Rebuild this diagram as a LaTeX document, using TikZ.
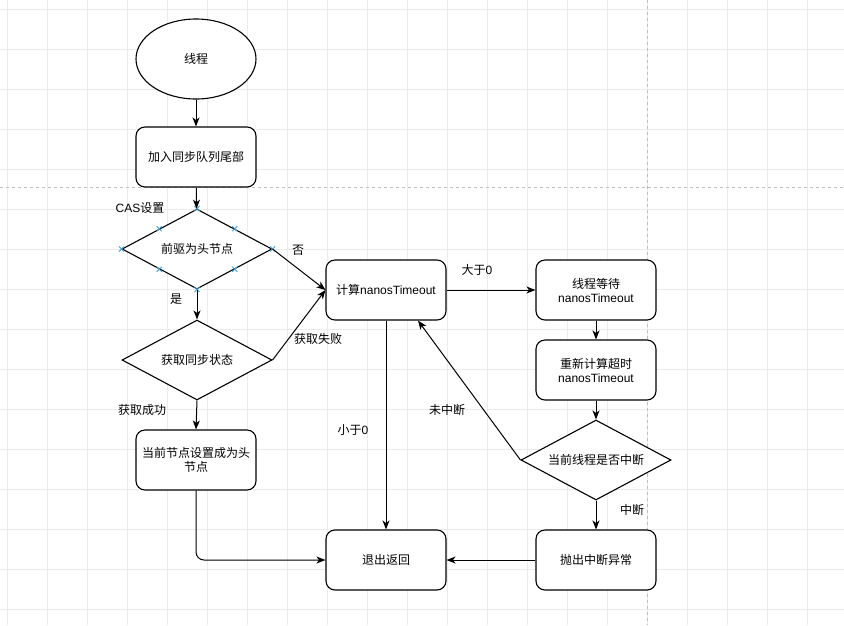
\documentclass[tikz,border=0pt]{standalone}
\usepackage{fontspec}
\setmainfont{Liberation Sans}
\newfontfamily\cjkfont{Noto Sans CJK SC}
\newcommand{\zhtext}[1]{{\cjkfont #1}}
\usetikzlibrary{shapes.geometric,arrows.meta,calc}
\definecolor{gridc}{RGB}{235,235,235}
\definecolor{dashc}{RGB}{190,190,190}
\definecolor{markc}{RGB}{60,160,220}
\tikzset{
  base/.style={draw=black, line width=1.1pt, fill=white, inner sep=0pt, align=center,
    font=\fontsize{12}{14}\selectfont},
  rbox/.style={base, rectangle, rounded corners=9pt, minimum width=120pt, minimum height=60pt},
  ell/.style={base, ellipse, minimum width=120pt, minimum height=80pt},
  dia/.style={base, diamond, aspect=1.875, minimum width=150pt, minimum height=80pt},
  conn/.style={draw=black, line width=1pt, -{Stealth[length=9pt,width=7pt,inset=2.5pt]}},
  lbl/.style={inner sep=0pt, font=\fontsize{12}{14}\selectfont},
  xmark/.style={draw=markc, line width=0.8pt}
}
\begin{document}
\begin{tikzpicture}[x=1pt,y=-1pt]
\useasboundingbox (0,0) rectangle (844,625);
\fill[white] (0,0) rectangle (844,625);
% grid
\foreach \gx in {7,47,...,844} \draw[gridc, line width=0.8pt] (\gx,0) -- (\gx,625);
\foreach \gy in {9,49,...,625} \draw[gridc, line width=0.8pt] (0,\gy) -- (844,\gy);
% dashed page breaks
\draw[dashc, line width=0.8pt, dash pattern=on 3pt off 3pt] (0,187) -- (844,187);
\draw[dashc, line width=0.8pt, dash pattern=on 3pt off 3pt] (647,0) -- (647,625);

% nodes
\node[ell] (thread) at (196,59) {\zhtext{线程}};
\node[rbox] (enq) at (196,157) {\zhtext{加入同步队列尾部}};
\node[dia] (pred) at (197,249) {\zhtext{前驱为头节点}};
\node[dia] (acq) at (197,360) {\zhtext{获取同步状态}};
\node[rbox] (sethead) at (196,460) {\zhtext{当前节点设置成为头}\\\zhtext{节点}};
\node[rbox] (calc) at (386,290) {\zhtext{计算}nanosTimeout};
\node[rbox] (wait) at (596,290) {\zhtext{线程等待}\\nanosTimeout};
\node[rbox] (recalc) at (596,370) {\zhtext{重新计算超时}\\nanosTimeout};
\node[dia] (intr) at (596,460) {\zhtext{当前线程是否中断}};
\node[rbox] (throw) at (596,560) {\zhtext{抛出中断异常}};
\node[rbox] (exit) at (386,560) {\zhtext{退出返回}};

% connection point marks on the selected diamond
\foreach \p in {
  (pred.north), (pred.south), (pred.east), (pred.west),
  ($(pred.north)!0.5!(pred.west)$), ($(pred.north)!0.5!(pred.east)$),
  ($(pred.south)!0.5!(pred.west)$), ($(pred.south)!0.5!(pred.east)$)}
{
  \draw[xmark] \p ++(-2.5,-2.5) -- ++(5,5);
  \draw[xmark] \p ++(-2.5,2.5) -- ++(5,-5);
}

\coordinate (calcin) at ($(calc.south)+(32,0)$);

% connectors
\draw[conn] (thread) -- (enq);
\draw[conn] (enq) -- (pred);
\draw[conn] (pred.south) -- (acq.north);
\draw[conn] (pred.east) -- (calc.west);
\draw[conn] (acq.east) -- (calc.west);
\draw[conn] (acq.south) -- (sethead.north);
\draw[conn, rounded corners=8pt] (sethead.south) |- (exit.west);
\draw[conn] (calc.east) -- (wait.west);
\draw[conn] (calc.south) -- (exit.north);
\draw[conn] (wait.south) -- (recalc.north);
\draw[conn] (recalc.south) -- (intr.north);
\draw[conn] (intr.west) -- (calcin);
\draw[conn] (intr.south) -- (throw.north);
\draw[conn] (throw.west) -- (exit.east);

% labels
\node[lbl] (lcas) at (140,208) {CAS\zhtext{设置}};
\node[lbl] (lyes) at (176,299) {\zhtext{是}};
\node[lbl] (lno) at (298,250) {\zhtext{否}};
\node[lbl] (lfail) at (318,339) {\zhtext{获取失败}};
\node[lbl] (lsucc) at (142,410) {\zhtext{获取成功}};
\node[lbl] (lgt) at (477,270) {\zhtext{大于}0};
\node[lbl] (llt) at (353,430) {\zhtext{小于}0};
\node[lbl] (lnoint) at (447,410) {\zhtext{未中断}};
\node[lbl] (lint) at (632,510) {\zhtext{中断}};
\end{tikzpicture}
\end{document}
